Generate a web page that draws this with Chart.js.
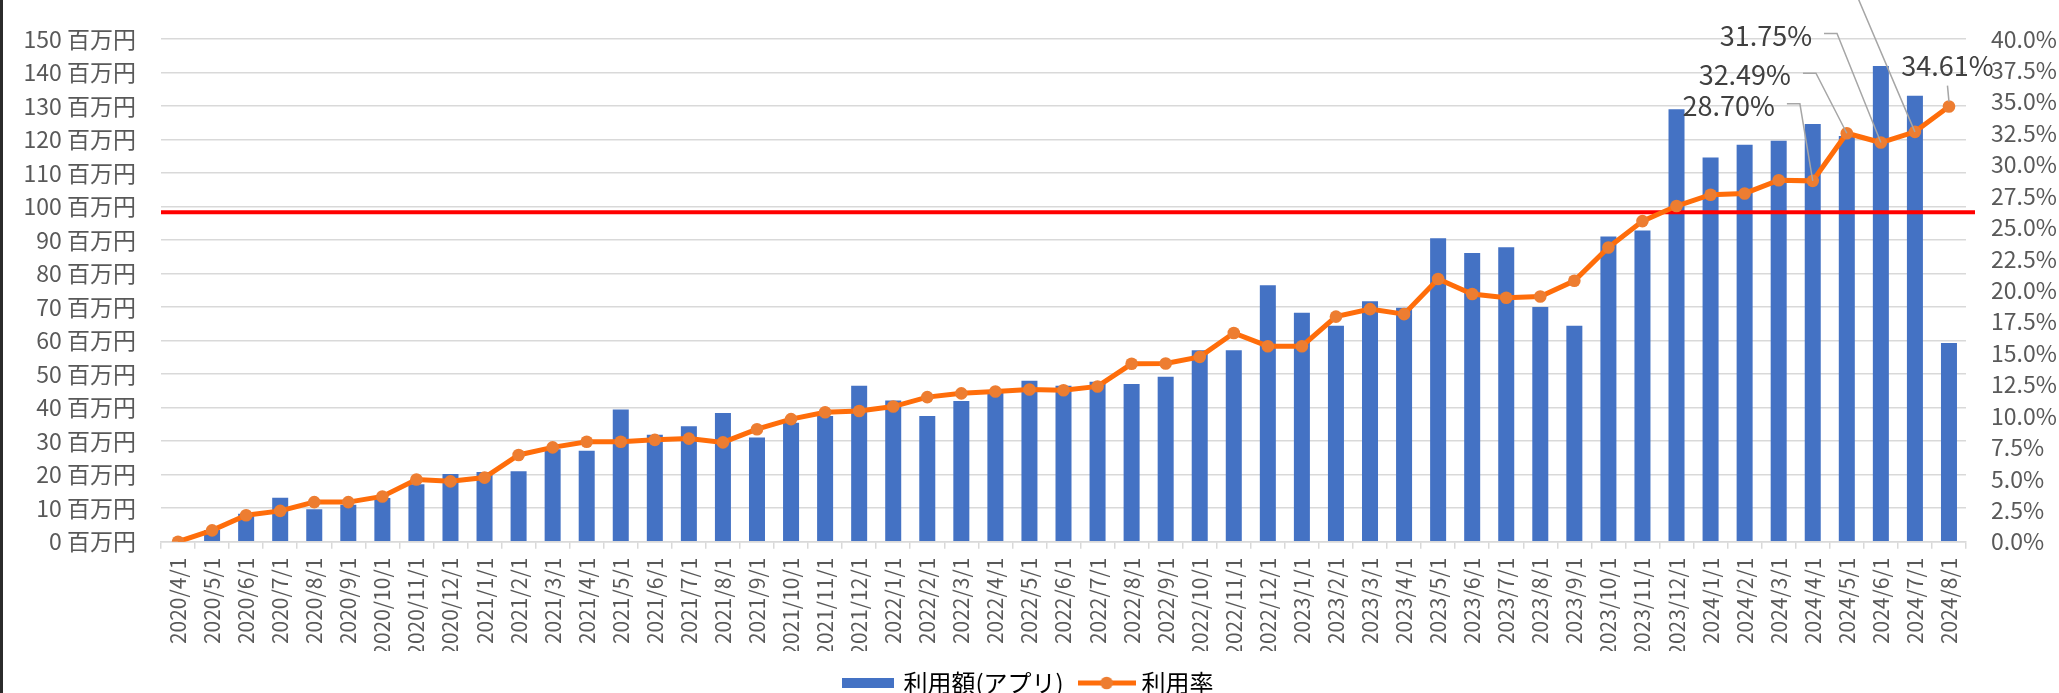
<!DOCTYPE html>
<html lang="ja">
<head>
<meta charset="utf-8">
<title>利用額と利用率</title>
<script src="https://cdn.jsdelivr.net/npm/chart.js@4.4.1/dist/chart.umd.min.js"></script>
<style>
  html, body { margin: 0; padding: 0; background: #fff; overflow: hidden; }
  #wrap { position: relative; width: 2059px; height: 693px; overflow: hidden; background: #fff; }
  #wrap::before { content: ""; position: absolute; left: 0; top: 0; bottom: 0; width: 3px; background: #2b2b2b; z-index: 2; }
  #chart { display: block; }
</style>
</head>
<body>
<div id="wrap"><canvas id="chart" width="2059" height="705"></canvas></div>
<script>
const months = [
    "2020/4/1", "2020/5/1", "2020/6/1", "2020/7/1", "2020/8/1", "2020/9/1", "2020/10/1", "2020/11/1", "2020/12/1",
    "2021/1/1", "2021/2/1", "2021/3/1", "2021/4/1", "2021/5/1", "2021/6/1", "2021/7/1", "2021/8/1", "2021/9/1", "2021/10/1", "2021/11/1", "2021/12/1",
    "2022/1/1", "2022/2/1", "2022/3/1", "2022/4/1", "2022/5/1", "2022/6/1", "2022/7/1", "2022/8/1", "2022/9/1", "2022/10/1", "2022/11/1", "2022/12/1",
    "2023/1/1", "2023/2/1", "2023/3/1", "2023/4/1", "2023/5/1", "2023/6/1", "2023/7/1", "2023/8/1", "2023/9/1", "2023/10/1", "2023/11/1", "2023/12/1",
    "2024/1/1", "2024/2/1", "2024/3/1", "2024/4/1", "2024/5/1", "2024/6/1", "2024/7/1", "2024/8/1"
];

// 利用額(アプリ), 百万円
const usageAmount = [
    0, 3.5, 8.3, 13.1, 9.7, 11.0, 13.0, 17.1, 20.2,
    20.8, 21.0, 27.6, 27.1, 39.4, 31.9, 34.4, 38.4, 31.1, 35.5, 37.5, 46.5,
    42.1, 37.5, 42.0, 44.5, 48.0, 46.5, 47.7, 47.0, 49.2, 57.1, 57.1, 76.5,
    68.3, 64.4, 71.7, 69.8, 90.5, 86.1, 87.8, 70.0, 64.4, 91.0, 92.8, 129.0,
    114.6, 118.4, 119.6, 124.6, 121.0, 141.9, 133.0, 59.3
];

// 利用率, %
const usageRate = [
    0, 0.9, 2.1, 2.45, 3.15, 3.15, 3.6, 4.95, 4.8,
    5.1, 6.9, 7.5, 7.95, 7.95, 8.1, 8.2, 7.9, 8.95, 9.75, 10.3, 10.4,
    10.75, 11.5, 11.8, 11.95, 12.1, 12.05, 12.35, 14.15, 14.17, 14.7, 16.6, 15.55,
    15.55, 17.9, 18.5, 18.1, 20.9, 19.7, 19.4, 19.5, 20.75, 23.4, 25.5, 26.7,
    27.6, 27.7, 28.75, 28.70, 32.49, 31.75, 32.6, 34.61
];

const amountMax = 150;
const amountStep = 10;
const rateMax = 40;
const rateStep = 2.5;
const thresholdAmount = 98.3;

// which rate points get a value label, and where the label sits (px from the point)
const rateLabelLayout = {
    48: { dx: -84, dy: -75, leader: "elbow" },
    49: { dx: -102, dy: -58, leader: "elbow" },
    50: { dx: -115, dy: -107, leader: "elbow" },
    51: { dx: -135, dy: -148, leader: "elbow" },
    52: { dx: -1.5, dy: -41, leader: "below" }
};

const BLUE = "#4472C4";
const ORANGE_LINE = "#FF6D0A";
const ORANGE_DOT = "#ED7D31";
const TEXT_GRAY = "#595959";
const GRID_GRAY = "#d9d9d9";
const FONT = '"Noto Sans CJK JP", "Noto Sans", sans-serif';

Chart.defaults.font.family = FONT;

// legend icons: a flat bar and a line with a marker
function makeIcon(kind) {
    const c = document.createElement("canvas");
    const g = c.getContext("2d");
    if (kind === "bar") {
        c.width = 52; c.height = 10;
        g.fillStyle = BLUE;
        g.fillRect(0, 0, 52, 10);
    } else {
        c.width = 58; c.height = 14;
        g.strokeStyle = ORANGE_LINE;
        g.lineWidth = 5;
        g.beginPath(); g.moveTo(0, 7); g.lineTo(58, 7); g.stroke();
        g.fillStyle = ORANGE_DOT;
        g.beginPath(); g.arc(29, 7, 6.3, 0, Math.PI * 2); g.fill();
    }
    return c;
}
const legendIcons = [makeIcon("bar"), makeIcon("line")];

// red reference line, drawn over the bars but under the rate line
const thresholdLine = {
    id: "thresholdLine",
    afterDatasetDraw(chart, args) {
        if (args.index !== 0) return;
        const y = chart.scales.yAmount.getPixelForValue(thresholdAmount);
        const { left, right } = chart.chartArea;
        const ctx = chart.ctx;
        ctx.save();
        ctx.strokeStyle = "#ff0000";
        ctx.lineWidth = 4;
        ctx.beginPath();
        ctx.moveTo(left, y);
        ctx.lineTo(right + 9, y);
        ctx.stroke();
        ctx.restore();
    }
};

// value labels with leader lines on the last points
const rateLabels = {
    id: "rateLabels",
    afterDatasetsDraw(chart) {
        const meta = chart.getDatasetMeta(1);
        const ctx = chart.ctx;
        ctx.save();
        ctx.font = "27px " + FONT;
        ctx.textAlign = "center";
        ctx.textBaseline = "middle";
        Object.keys(rateLabelLayout).forEach((key) => {
            const i = Number(key);
            const pos = rateLabelLayout[key];
            const pt = meta.data[i];
            const tx = pt.x + pos.dx;
            const ty = pt.y + pos.dy;
            const text = usageRate[i].toFixed(2) + "%";
            const w = ctx.measureText(text).width;

            ctx.strokeStyle = "#a6a6a6";
            ctx.lineWidth = 1.5;
            ctx.beginPath();
            if (pos.leader === "elbow") {
                const x0 = tx + w / 2 + 12;
                ctx.moveTo(x0, ty - 2);
                ctx.lineTo(x0 + 13, ty - 2);
                ctx.lineTo(pt.x, pt.y);
            } else {
                ctx.moveTo(tx, ty + 20);
                ctx.lineTo(pt.x, pt.y - 5);
            }
            ctx.stroke();

            ctx.fillStyle = "#404040";
            ctx.fillText(text, tx, ty);
        });
        ctx.restore();
    }
};

new Chart(document.getElementById("chart").getContext("2d"), {
    type: "bar",
    data: {
        labels: months,
        datasets: [
            {
                type: "bar",
                label: "利用額(アプリ)",
                data: usageAmount,
                yAxisID: "yAmount",
                backgroundColor: BLUE,
                borderWidth: 0,
                barPercentage: 0.47,
                categoryPercentage: 1.0,
                order: 2
            },
            {
                type: "line",
                label: "利用率",
                data: usageRate,
                yAxisID: "yRate",
                borderColor: ORANGE_LINE,
                backgroundColor: ORANGE_DOT,
                borderWidth: 5,
                pointRadius: 6.3,
                pointBorderWidth: 0,
                pointBackgroundColor: ORANGE_DOT,
                tension: 0,
                order: 1
            }
        ]
    },
    options: {
        responsive: false,
        animation: false,
        layout: { padding: { top: 21, left: 0, right: 0, bottom: 0 } },
        plugins: {
            tooltip: { enabled: false },
            legend: {
                position: "bottom",
                labels: {
                    usePointStyle: true,
                    pointStyleWidth: 46,
                    padding: 20,
                    color: TEXT_GRAY,
                    font: { size: 24 },
                    generateLabels: (chart) => chart.data.datasets.map((ds, i) => ({
                        text: ds.label,
                        pointStyle: legendIcons[i],
                        fillStyle: "transparent",
                        strokeStyle: "transparent",
                        lineWidth: 0,
                        hidden: false,
                        datasetIndex: i
                    }))
                }
            }
        },
        scales: {
            x: {
                type: "category",
                offset: true,
                grid: { offset: true, drawOnChartArea: false, color: GRID_GRAY, lineWidth: 1.5, tickLength: 7 },
                border: { color: GRID_GRAY, width: 1.5 },
                ticks: {
                    autoSkip: false,
                    minRotation: 90,
                    maxRotation: 90,
                    padding: 9,
                    color: TEXT_GRAY,
                    font: { size: 21 }
                },
                afterFit(scale) { scale.height = 109.3; }
            },
            yAmount: {
                position: "left",
                min: 0,
                max: amountMax,
                ticks: {
                    stepSize: amountStep,
                    padding: 25,
                    color: TEXT_GRAY,
                    font: { size: 23 },
                    callback: (v) => v + " 百万円"
                },
                grid: { color: GRID_GRAY, lineWidth: 1.5, drawTicks: false },
                border: { display: false },
                afterFit(scale) { scale.width = 161; }
            },
            yRate: {
                position: "right",
                min: 0,
                max: rateMax,
                ticks: {
                    stepSize: rateStep,
                    padding: 25,
                    color: TEXT_GRAY,
                    font: { size: 23 },
                    callback: (v) => v.toFixed(1) + "%"
                },
                grid: { display: false, drawTicks: false },
                border: { display: false },
                afterFit(scale) { scale.width = 93; }
            }
        }
    },
    plugins: [thresholdLine, rateLabels]
});
</script>
</body>
</html>
